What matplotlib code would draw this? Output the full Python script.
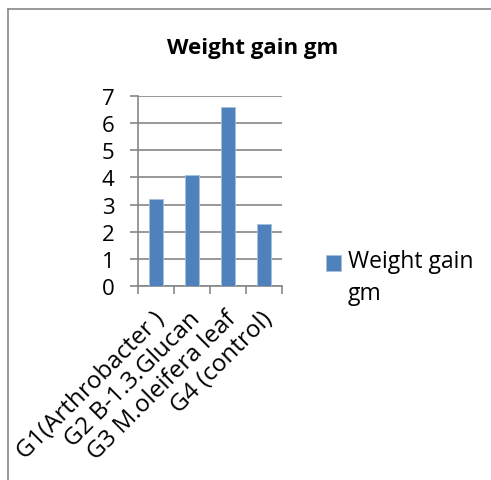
import matplotlib.pyplot as plt
import matplotlib.transforms as mtransforms
import numpy as np
from matplotlib.patches import Rectangle
from matplotlib.container import BarContainer
from matplotlib.legend_handler import HandlerPatch, update_from_first_child

plt.rcParams['font.family'] = ['Open Sans', 'DejaVu Sans']

categories = ['G1(Arthrobacter )', 'G2 B-1.3.Glucan', 'G3 M.oleifera leaf', 'G4 (control)']
weight_gain = [3.2, 4.1, 6.6, 2.3]
series_name = 'Weight gain\ngm'

fig = plt.figure(figsize=(4.91, 4.81), dpi=100)
ax = fig.add_axes([138 / 491, 1 - 287 / 481, 144 / 491, 190 / 481])

x = np.arange(len(categories))
ax.bar(x, weight_gain, width=0.4, color='#4F81BD', edgecolor='#A7C0DE', linewidth=0.6,
       label=series_name, zorder=3)

ax.set_xlim(-0.5, len(categories) - 0.5)
ax.set_ylim(0, 7)
ax.set_yticks(range(8))
ax.yaxis.grid(True, color='#868686', linewidth=1.2, zorder=0)
ax.tick_params(axis='y', length=5.8, width=1.2, color='#868686', labelsize=16, pad=11)

# category ticks sit on the boundaries
ax.set_xticks(np.arange(len(categories) + 1) - 0.5)
ax.set_xticklabels([])
ax.tick_params(axis='x', which='major', length=5.8, width=1.2, color='#868686')
ax.set_xticks(x, minor=True)
ax.set_xticklabels(categories, minor=True, rotation=45, ha='right', va='center',
                   rotation_mode='anchor', fontsize=17.5)
ax.tick_params(axis='x', which='minor', length=0, pad=21)

for side in ['top', 'right']:
    ax.spines[side].set_visible(False)
for side in ['left', 'bottom']:
    ax.spines[side].set_color('#868686')
    ax.spines[side].set_linewidth(1.2)

fig.text(253 / 491, 1 - 49 / 481, 'Weight gain gm', ha='center', va='center',
         fontsize=16, fontweight='bold')


def raised_square(legend, orig_handle, xdescent, ydescent, width, height, fontsize):
    return Rectangle((-xdescent, -ydescent + 11), width, height)


leg = fig.legend(loc='center left', bbox_to_anchor=(305 / 491, 1 - 278 / 481), frameon=False,
                 fontsize=16.5, handlelength=0.68, handleheight=0.68, handletextpad=0.3,
                 handler_map={BarContainer: HandlerPatch(patch_func=raised_square,
                                                         update_func=update_from_first_child)})
for t in leg.get_texts():
    t.set_linespacing(1.4)

# chart frame (cropped on right and bottom)
fig.add_artist(plt.Line2D([8 / 491, 8 / 491], [0, 1 - 10 / 481], color='#888888', linewidth=1.2))
fig.add_artist(plt.Line2D([8 / 491, 1], [1 - 10 / 481, 1 - 10 / 481], color='#888888', linewidth=1.2))

# nudge the slanted labels a little to the right, like the original
shift = mtransforms.ScaledTranslation(5 / 100, 0, fig.dpi_scale_trans)
for lab in ax.get_xticklabels(minor=True):
    lab.set_transform(lab.get_transform() + shift)

fig.savefig('out.png', dpi=100)
